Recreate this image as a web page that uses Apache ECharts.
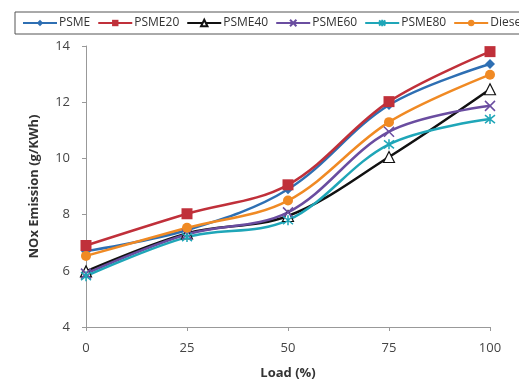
<!DOCTYPE html>
<html>
<head>
<meta charset="utf-8">
<script src="https://cdn.jsdelivr.net/npm/echarts@6/dist/echarts.min.js"></script>
<style>
  html, body { margin: 0; padding: 0; background: #fff; }
  #chart { width: 519px; height: 385px; }
</style>
</head>
<body>
<div id="chart"></div>
<script>
// load points (%)
const loads = [0, 25, 50, 75, 100];

// NOx emission values (g/KWh)
const psme = [6.7, 7.45, 8.9, 11.9, 13.36];
const psme20 = [6.9, 8.03, 9.06, 12.02, 13.8];
const psme40 = [5.98, 7.33, 7.95, 10.05, 12.46];
const psme60 = [5.9, 7.3, 8.08, 10.95, 11.87];
const psme80 = [5.81, 7.2, 7.8, 10.5, 11.4];
const diesel = [6.53, 7.53, 8.5, 11.29, 12.98];

const yTicks = [4, 6, 8, 10, 12, 14];

const pairs = (vals) => loads.map((x, i) => [x, vals[i]]);

const crossPath = "path://M0,0L10,10M10,0L0,10";
const starPath = "path://M5,0L5,10M1,1L9,9M9,1L1,9";

const mk = (name, vals, color, symbol, size, extra) => Object.assign({
  name: name,
  type: "line",
  smooth: 0.35,
  data: pairs(vals),
  symbol: symbol,
  symbolSize: size,
  lineStyle: { color: color, width: 2.5 },
  itemStyle: { color: color },
}, extra || {});

const series = [
  mk("PSME", psme, "#2e6fb3", "diamond", 10),
  mk("PSME20", psme20, "#c0303a", "rect", 11),
  mk("PSME40", psme40, "#111111", "triangle", 11, {
    itemStyle: { color: "#ffffff", borderColor: "#111111", borderWidth: 1.2 },
  }),
  mk("PSME60", psme60, "#6a4da0", crossPath, 10, {
    itemStyle: { color: "#6a4da0", borderColor: "#6a4da0", borderWidth: 1.5 },
  }),
  mk("PSME80", psme80, "#1fa6b8", starPath, 10, {
    itemStyle: { color: "#1fa6b8", borderColor: "#1fa6b8", borderWidth: 1.5 },
  }),
  mk("Diesel", diesel, "#f08a24", "circle", 10),
];

const option = {
  animation: false,
  textStyle: { fontFamily: "Open Sans" },
  legend: {
    left: 15,
    top: 12,
    width: 700,
    padding: [5, 7, 5, 7],
    itemGap: 7,
    itemWidth: 34,
    itemHeight: 8,
    borderColor: "#555",
    borderWidth: 1,
    textStyle: { fontSize: 12, color: "#333", padding: [0, 0, 0, -3] },
  },
  grid: { left: 86, right: 29, top: 46, bottom: 51 },
  xAxis: {
    type: "value",
    min: 0,
    max: 100,
    interval: 25,
    name: "Load (%)",
    nameLocation: "middle",
    nameGap: 40,
    nameTextStyle: { fontWeight: "bold", fontSize: 13, color: "#333" },
    axisLine: { lineStyle: { color: "#999" } },
    axisTick: { show: true, length: 4, lineStyle: { color: "#999" } },
    axisLabel: { fontSize: 13, color: "#444", margin: 15 },
    splitLine: { show: false },
  },
  yAxis: {
    type: "value",
    min: yTicks[0],
    max: yTicks[yTicks.length - 1],
    interval: 2,
    name: "NOx Emission (g/KWh)",
    nameLocation: "middle",
    nameGap: 45,
    nameTextStyle: { fontWeight: "bold", fontSize: 13, color: "#333" },
    axisLine: { show: true, lineStyle: { color: "#999" } },
    axisTick: { show: true, length: 4, lineStyle: { color: "#999" } },
    axisLabel: { fontSize: 13, color: "#444", margin: 16 },
    splitLine: { show: false },
  },
  series: series,
};

const myChart = echarts.init(document.getElementById("chart"));
myChart.setOption(option);
</script>
</body>
</html>
